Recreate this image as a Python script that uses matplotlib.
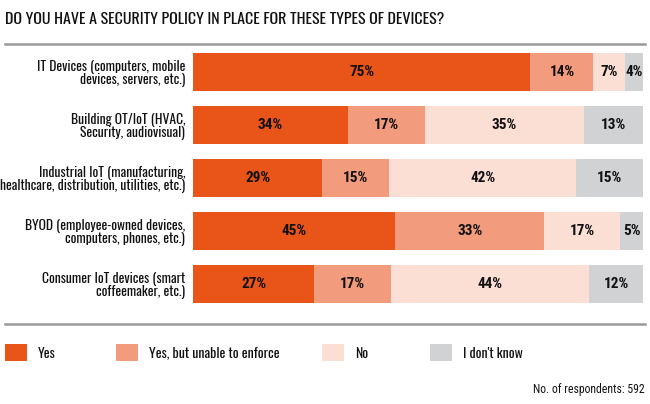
import numpy as np
import matplotlib.pyplot as plt
from matplotlib.patches import Rectangle
from matplotlib.lines import Line2D

plt.rcParams['font.family'] = ['Oswald', 'Barlow Condensed', 'DejaVu Sans']
label_font = ['Oswald', 'DejaVu Sans']
pct_font = ['Roboto Condensed', 'DejaVu Sans']

categories = ["IT Devices (computers, mobile\ndevices, servers, etc.)",
              "Building OT/IoT (HVAC,\nSecurity, audiovisual)",
              "Industrial IoT (manufacturing,\nhealthcare, distribution, utilities, etc.)",
              "BYOD (employee-owned devices,\ncomputers, phones, etc.)",
              "Consumer IoT devices (smart\ncoffeemaker, etc.)"]
yes = [75, 34, 29, 45, 27]
yes_unenforced = [14, 17, 15, 33, 17]
no = [7, 35, 42, 17, 44]
dont_know = [4, 13, 15, 5, 12]
series_names = ["Yes", "Yes, but unable to enforce", "No", "I don't know"]
colors = ['#E95418', '#F39B7D', '#FBDED4', '#D1D2D4']

data = np.array([yes, yes_unenforced, no, dont_know], dtype=float)
widths = data / data.sum(axis=0) * 100  # rows don't add to exactly 100

fig = plt.figure(figsize=(6.5, 4.04), dpi=100)
ax = fig.add_axes([193/650, 1-303/404, 450/650, 250/404])

ypos = np.arange(len(categories))
left = np.zeros(len(categories))
for i in range(4):
    ax.barh(ypos, widths[i], left=left, height=0.717, color=colors[i], edgecolor='none')
    for j in range(len(categories)):
        ax.text(left[j] + widths[i][j]/2, ypos[j], f"{int(data[i][j])}%",
                ha='center', va='center', fontsize=11, fontweight='bold',
                color='#111111', family=pct_font)
    left += widths[i]

ax.set_xlim(0, 100)
ax.set_ylim(4.3585, -0.3585)
ax.set_yticks(ypos)
ax.set_yticklabels(categories, fontsize=9.8, linespacing=0.95, ha='right', color='#111111',
                   family=label_font)
ax.tick_params(axis='y', length=0, pad=5.5)
ax.set_xticks([])
for s in ax.spines.values():
    s.set_visible(False)

fig.text(5/650, 1-20/404, "DO YOU HAVE A SECURITY POLICY IN PLACE FOR THESE TYPES OF DEVICES?",
         fontsize=11.5, va='center', ha='left', color='#111111')
fig.add_artist(Line2D([5/650, 645/650], [1-44/404, 1-44/404], color='#999999', lw=1.8))
fig.add_artist(Line2D([5/650, 645/650], [1-324/404, 1-324/404], color='#999999', lw=1.8))

box_x = [5, 116, 322, 430]
text_x = [38, 149, 355, 463]
for i in range(4):
    fig.add_artist(Rectangle((box_x[i]/650, 1-361/404), 22/650, 17/404,
                             transform=fig.transFigure, facecolor=colors[i], edgecolor='none'))
    fig.text(text_x[i]/650, 1-353/404, series_names[i], fontsize=10, va='center', ha='left',
             color='#111111', family=label_font)

fig.text(645/650, 1-389/404, "No. of respondents: 592", fontsize=8.5, ha='right', va='center',
         color='#111111', family=['Roboto Condensed', 'DejaVu Sans'])

fig.savefig('out.png', dpi=100)
